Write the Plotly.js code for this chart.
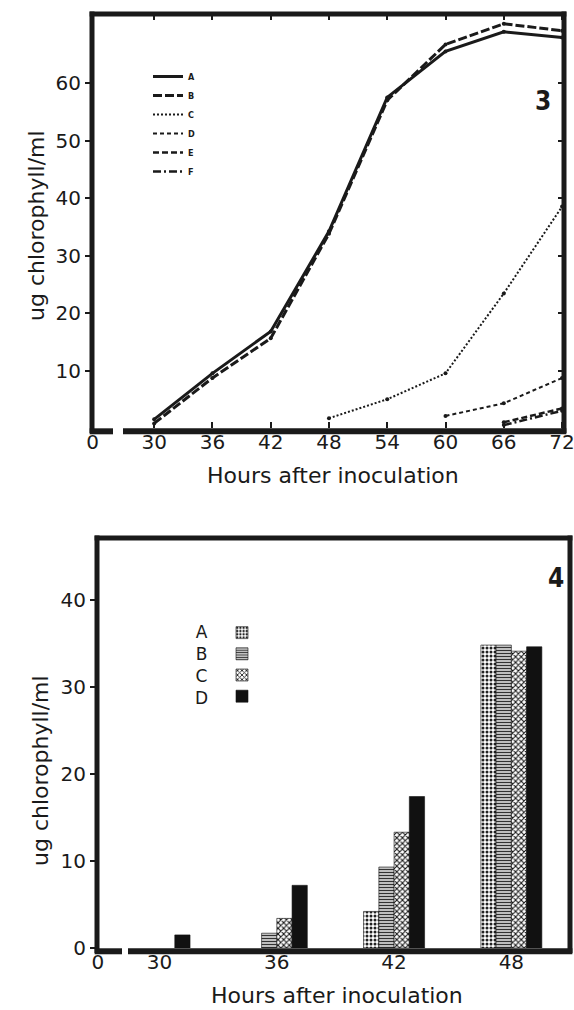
<!DOCTYPE html>
<html>
<head>
<meta charset="utf-8">
<script src="https://cdn.plot.ly/plotly-3.0.1.min.js"></script>
<style>
  html, body { margin: 0; padding: 0; background: #fff; }
  #chart { width: 574px; height: 1010px; }
</style>
</head>
<body>
<div id="chart"></div>
<script>
// ---------- Figure 3 data (line chart) ----------
const hours3 = [30, 36, 42, 48, 54, 60, 66, 72];
const seriesA = [1.5, 9.5, 16.8, 34.2, 57.5, 65.5, 68.9, 67.9];
const seriesB = [0.8, 8.7, 15.6, 33.8, 57.0, 66.7, 70.3, 69.1];
const hoursC = [48, 54, 60, 66, 72];
const seriesC = [1.7, 5.0, 9.5, 23.4, 38.5];
const hoursD = [60, 66, 72];
const seriesD = [2.1, 4.3, 8.7];
const hoursE = [66, 72];
const seriesE = [1.0, 3.4];
const hoursF = [66, 72];
const seriesF = [0.5, 3.0];
const lineNames = ["A", "B", "C", "D", "E", "F"];
const xTicks3 = [30, 36, 42, 48, 54, 60, 66, 72];
const yTicks3 = [10, 20, 30, 40, 50, 60];

// ---------- Figure 4 data (bar chart) ----------
const hours4 = [30, 36, 42, 48];
const barA = [null, null, 4.2, 34.8];
const barB = [null, 1.7, 9.3, 34.8];
const barC = [null, 3.4, 13.3, 34.1];
const barD = [1.5, 7.2, 17.4, 34.6];
const barNames = ["A", "B", "C", "D"];
const xTicks4 = [30, 36, 42, 48];
const yTicks4 = [0, 10, 20, 30, 40];

const xTitle = "Hours after inoculation";
const yTitle = "ug chlorophyll/ml";

// ---------- geometry helpers (pixels -> paper) ----------
const W = 574, H = 1010;
const px = v => v / W;
const py = v => 1 - v / H;

const X3 = [23.6, 72.2], Y3 = [0, 72.0];
const X4 = [26.8, 51.0], Y4 = [0, 47.1];

const FONT = "DejaVu Sans, Verdana, sans-serif";
const COND = "DejaVu Sans Condensed, DejaVu Sans, sans-serif";
const INK = "#1a1a1a";

const lineStyles = [
  {dash: "solid", width: 3},
  {dash: "9px,3px", width: 3},
  {dash: "2px,2px", width: 2},
  {dash: "4px,3px", width: 2},
  {dash: "6px,3px", width: 2.5},
  {dash: "8px,3px,2px,3px", width: 2.5}
];
const lineData = [
  [hours3, seriesA], [hours3, seriesB], [hoursC, seriesC],
  [hoursD, seriesD], [hoursE, seriesE], [hoursF, seriesF]
];

const traces = [];
lineData.forEach((d, i) => {
  traces.push({
    type: "scatter", mode: "lines", x: d[0], y: d[1], name: lineNames[i],
    line: {color: INK, width: lineStyles[i].width, dash: lineStyles[i].dash},
    xaxis: "x", yaxis: "y", legend: "legend", hoverinfo: "skip"
  });
});
lineData.forEach((d, i) => {
  traces.push({
    type: "scatter", mode: "markers", x: d[0], y: d[1], showlegend: false,
    marker: {color: INK, size: 4},
    xaxis: "x", yaxis: "y", hoverinfo: "skip"
  });
});
// empty trace so mirrored (inside-tick) axes exist
traces.push({type: "scatter", mode: "markers", x: [], y: [], xaxis: "x3", yaxis: "y3", showlegend: false});

const patterns = [
  {shape: ".", size: 4, solidity: 0.45, fgcolor: "#222", bgcolor: "#fff"},
  {shape: "-", size: 3, solidity: 0.45, fgcolor: "#333", bgcolor: "#ddd"},
  {shape: "x", size: 4, solidity: 0.45, fgcolor: "#111", bgcolor: "#fff"},
  {shape: "", size: 4, solidity: 1, fgcolor: "#111", bgcolor: "#111"}
];
const barVals = [barA, barB, barC, barD];
barVals.forEach((v, i) => {
  traces.push({
    type: "bar", x: hours4, y: v, name: " ",
    marker: {
      color: i === 3 ? "#111" : "#fff",
      pattern: patterns[i],
      line: {color: "#111", width: 0.6}
    },
    xaxis: "x2", yaxis: "y2", legend: "legend2", hoverinfo: "skip"
  });
});

const dom3x = [px(92), px(564)], dom3y = [py(428), py(14)];
const dom4x = [px(97), px(570)], dom4y = [py(948), py(538)];

const tickFont = {family: FONT, size: 20, color: INK};

const shapes = [];
function frame(xa, ya, gap0, gap1) {
  const xr = xa + " domain", yr = ya + " domain";
  const ln = {color: INK, width: 5};
  shapes.push({type: "line", xref: xr, yref: yr, x0: 0, x1: 0, y0: -0.012, y1: 1.006, line: ln});
  shapes.push({type: "line", xref: xr, yref: yr, x0: -0.005, x1: 1.005, y0: 1, y1: 1, line: ln});
  shapes.push({type: "line", xref: xr, yref: yr, x0: 1, x1: 1, y0: -0.012, y1: 1.006, line: ln});
  shapes.push({type: "line", xref: xr, yref: yr, x0: -0.005, x1: gap0, y0: -0.008, y1: -0.008, line: {color: INK, width: 6}});
  shapes.push({type: "line", xref: xr, yref: yr, x0: gap1, x1: 1.005, y0: -0.008, y1: -0.008, line: {color: INK, width: 6}});
}
frame("x", "y", (113 - 92) / 472, (123 - 92) / 472);
frame("x2", "y2", (122 - 97) / 473, (128 - 97) / 473);

const annotations = [
  {text: xTitle, xref: "paper", yref: "paper", x: px(333), y: py(475), showarrow: false,
   font: {family: FONT, size: 22, color: INK}, xanchor: "center", yanchor: "middle"},
  {text: xTitle, xref: "paper", yref: "paper", x: px(337), y: py(995), showarrow: false,
   font: {family: FONT, size: 22, color: INK}, xanchor: "center", yanchor: "middle"},
  {text: yTitle, xref: "paper", yref: "paper", x: px(37), y: py(226), showarrow: false, textangle: -90,
   font: {family: FONT, size: 22, color: INK}, xanchor: "center", yanchor: "middle"},
  {text: yTitle, xref: "paper", yref: "paper", x: px(40), y: py(771), showarrow: false, textangle: -90,
   font: {family: FONT, size: 22, color: INK}, xanchor: "center", yanchor: "middle"},
  {text: "<b>3</b>", xref: "paper", yref: "paper", x: px(543), y: py(101), showarrow: false,
   font: {family: COND, size: 26, color: INK}, xanchor: "center", yanchor: "middle"},
  {text: "<b>4</b>", xref: "paper", yref: "paper", x: px(556), y: py(578), showarrow: false,
   font: {family: COND, size: 26, color: INK}, xanchor: "center", yanchor: "middle"},
  {text: barNames.join("<br>"), xref: "paper", yref: "paper", x: px(201), y: py(665), showarrow: false,
   align: "center", font: {family: FONT, size: 17, color: INK}, xanchor: "center", yanchor: "middle"}
];

const layout = {
  width: W, height: H,
  margin: {l: 0, r: 0, t: 0, b: 0},
  paper_bgcolor: "#fff", plot_bgcolor: "rgba(0,0,0,0)",
  showlegend: true,
  barmode: "group", bargap: 0.48, bargroupgap: 0,
  xaxis: {
    domain: dom3x, range: X3, anchor: "y", showgrid: false, zeroline: false, showline: false,
    tickvals: [X3[0] + 0.05].concat(xTicks3), ticktext: ["0"].concat(xTicks3.map(String)),
    ticks: "inside", ticklen: 6, tickwidth: 2, tickcolor: INK, tickfont: tickFont,
    ticklabeloverflow: "allow"
  },
  yaxis: {
    domain: dom3y, range: Y3, anchor: "x", showgrid: false, zeroline: false, showline: false,
    tickvals: yTicks3, ticks: "outside", ticklen: 6, tickwidth: 2, tickcolor: INK, tickfont: tickFont
  },
  xaxis3: {
    overlaying: "x", side: "top", anchor: "y", range: X3, showgrid: false, zeroline: false, showline: false,
    tickvals: xTicks3, ticks: "inside", ticklen: 6, tickwidth: 2, tickcolor: INK, showticklabels: false
  },
  yaxis3: {
    overlaying: "y", side: "right", anchor: "x", range: Y3, showgrid: false, zeroline: false, showline: false,
    tickvals: yTicks3, ticks: "inside", ticklen: 6, tickwidth: 2, tickcolor: INK, showticklabels: false
  },
  xaxis2: {
    domain: dom4x, range: X4, anchor: "y2", showgrid: false, zeroline: false, showline: false,
    tickvals: [X4[0] + 0.05].concat(xTicks4), ticktext: ["0"].concat(xTicks4.map(String)),
    ticks: "", tickfont: tickFont
  },
  yaxis2: {
    domain: dom4y, range: Y4, anchor: "x2", showgrid: false, zeroline: false, showline: false,
    tickvals: yTicks4, ticks: "outside", ticklen: 6, tickwidth: 2, tickcolor: INK, tickfont: tickFont
  },
  legend: {
    x: px(148), y: py(62), xanchor: "left", yanchor: "top",
    bgcolor: "rgba(0,0,0,0)", borderwidth: 0, tracegroupgap: 0,
    font: {family: COND, size: 9, color: INK, weight: "bold"}
  },
  legend2: {
    x: px(222), y: py(617), xanchor: "left", yanchor: "top",
    bgcolor: "rgba(0,0,0,0)", borderwidth: 0, tracegroupgap: 0,
    font: {family: FONT, size: 14, color: INK}
  },
  shapes: shapes,
  annotations: annotations
};

Plotly.newPlot("chart", traces, layout, {staticPlot: true, displayModeBar: false});
</script>
</body>
</html>
